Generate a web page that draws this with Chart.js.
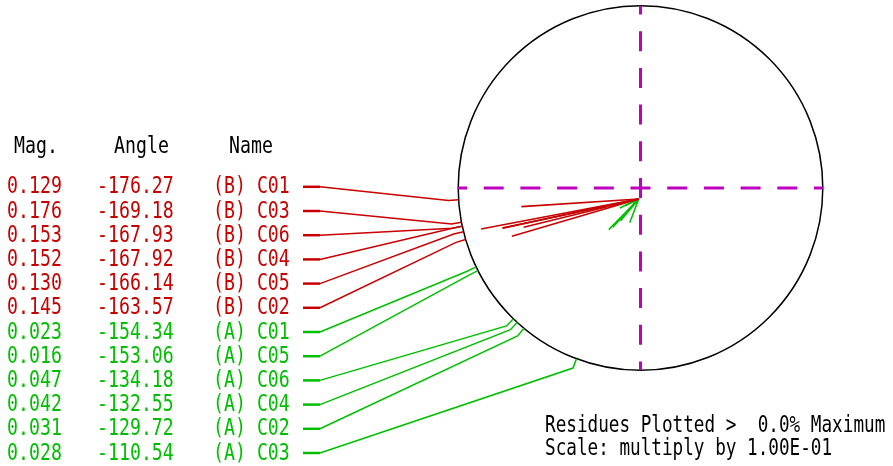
<!DOCTYPE html>
<html>
<head>
<meta charset="utf-8">
<script src="https://cdn.jsdelivr.net/npm/chart.js@4/dist/chart.umd.min.js"></script>
<style>
  html, body { margin: 0; padding: 0; background: #fff; }
  canvas { display: block; }
</style>
</head>
<body>
<canvas id="residues" width="893" height="466"></canvas>
<script>
// residue data (magnitude, angle in degrees, name)
const magnitudes = [0.129, 0.176, 0.153, 0.152, 0.130, 0.145, 0.023, 0.016, 0.047, 0.042, 0.031, 0.028];
const angles = [-176.27, -169.18, -167.93, -167.92, -166.14, -163.57, -154.34, -153.06, -134.18, -132.55, -129.72, -110.54];
const names = ['(B) C01', '(B) C03', '(B) C06', '(B) C04', '(B) C05', '(B) C02',
               '(A) C01', '(A) C05', '(A) C06', '(A) C04', '(A) C02', '(A) C03'];
const headers = ['Mag.', 'Angle', 'Name'];
const notes = ['Residues Plotted >  0.0% Maximum', 'Scale: multiply by 1.00E-01'];
const circleRadius = 0.2;
const vectorOrigin = [-0.002, -0.012];

const RED = '#c80000';
const GREEN = '#00bf00';
const MAGENTA = '#c000c0';

// pixel layout
const PX_PER_UNIT = 911.5;
const CENTER_PX = [640.5, 188];
const W = 893, H = 466;

const colorOf = n => n.startsWith('(B)') ? RED : GREEN;
const rad = d => d * Math.PI / 180;

let datasets = [];

// dashed cross, four arms starting at the centre
[[-circleRadius, 0], [circleRadius, 0], [0, circleRadius], [0, -circleRadius]].forEach(p => {
    datasets.push({
        data: [{ x: 0, y: 0 }, { x: p[0], y: p[1] }],
        showLine: true,
        borderColor: MAGENTA,
        borderWidth: 3,
        borderDash: [20, 16.7],
        borderDashOffset: 10,
        pointRadius: 0
    });
});

// residue vectors
magnitudes.forEach((m, i) => {
    let t = rad(angles[i]);
    datasets.push({
        data: [
            { x: vectorOrigin[0], y: vectorOrigin[1] },
            { x: vectorOrigin[0] + m * Math.cos(t), y: vectorOrigin[1] + m * Math.sin(t) }
        ],
        showLine: true,
        borderColor: colorOf(names[i]),
        borderWidth: 1.6,
        pointRadius: 0
    });
});

function drawText(ctx, text, x, y, sx) {
    ctx.save();
    ctx.translate(x, y);
    ctx.scale(sx || 0.81, 1);
    ctx.fillText(text, 0, 0);
    ctx.restore();
}

const tablePlugin = {
    id: 'tablePlugin',
    beforeDatasetsDraw(chart) {
        const ctx = chart.ctx;
        const xs = chart.scales.x, ys = chart.scales.y;
        const cx = xs.getPixelForValue(0), cy = ys.getPixelForValue(0);
        const r = xs.getPixelForValue(circleRadius) - cx;
        ctx.save();
        ctx.strokeStyle = '#000';
        ctx.lineWidth = 1.5;
        ctx.beginPath();
        ctx.arc(cx, cy, r, 0, Math.PI * 2);
        ctx.stroke();
        ctx.restore();
    },
    afterDatasetsDraw(chart) {
        const ctx = chart.ctx;
        const xs = chart.scales.x, ys = chart.scales.y;
        const cx = xs.getPixelForValue(0), cy = ys.getPixelForValue(0);
        const r = xs.getPixelForValue(circleRadius) - cx;

        ctx.save();
        ctx.font = '22.5px "DejaVu Sans Mono"';
        ctx.textBaseline = 'alphabetic';

        // headers
        ctx.fillStyle = '#000';
        drawText(ctx, headers[0], 14, 153);
        drawText(ctx, headers[1], 114, 153);
        drawText(ctx, headers[2], 229, 153);

        names.forEach((n, i) => {
            const col = colorOf(n);
            const base = 193.3 + 24.2 * i;
            const rowY = base - 6.5;
            ctx.fillStyle = col;
            drawText(ctx, magnitudes[i].toFixed(3), 7, base);
            drawText(ctx, angles[i].toFixed(2), 97, base);
            drawText(ctx, n, 213, base);

            // leader line from label to circle
            const t = rad(angles[i]);
            const px = cx + r * Math.cos(t), py = cy - r * Math.sin(t);
            const sx = cx + (r + 10) * Math.cos(t), sy = cy - (r + 10) * Math.sin(t);
            ctx.strokeStyle = col;
            ctx.lineWidth = 1.5;
            ctx.beginPath();
            ctx.moveTo(px, py);
            ctx.lineTo(sx, sy);
            ctx.lineTo(320, rowY);
            ctx.stroke();
            ctx.lineWidth = 2.5;
            ctx.beginPath();
            ctx.moveTo(320, rowY);
            ctx.lineTo(303, rowY);
            ctx.stroke();
        });

        ctx.fillStyle = '#000';
        drawText(ctx, notes[0], 545, 432, 0.785);
        drawText(ctx, notes[1], 545, 455, 0.785);
        ctx.restore();
    }
};

const chart = new Chart(document.getElementById('residues'), {
    type: 'scatter',
    data: { datasets: datasets },
    options: {
        responsive: false,
        animation: false,
        events: [],
        layout: { padding: 0 },
        plugins: { legend: { display: false }, tooltip: { enabled: false } },
        scales: {
            x: { type: 'linear', display: false,
                 min: -CENTER_PX[0] / PX_PER_UNIT, max: (W - CENTER_PX[0]) / PX_PER_UNIT },
            y: { type: 'linear', display: false,
                 min: -(H - CENTER_PX[1]) / PX_PER_UNIT, max: CENTER_PX[1] / PX_PER_UNIT }
        }
    },
    plugins: [tablePlugin]
});
</script>
</body>
</html>
